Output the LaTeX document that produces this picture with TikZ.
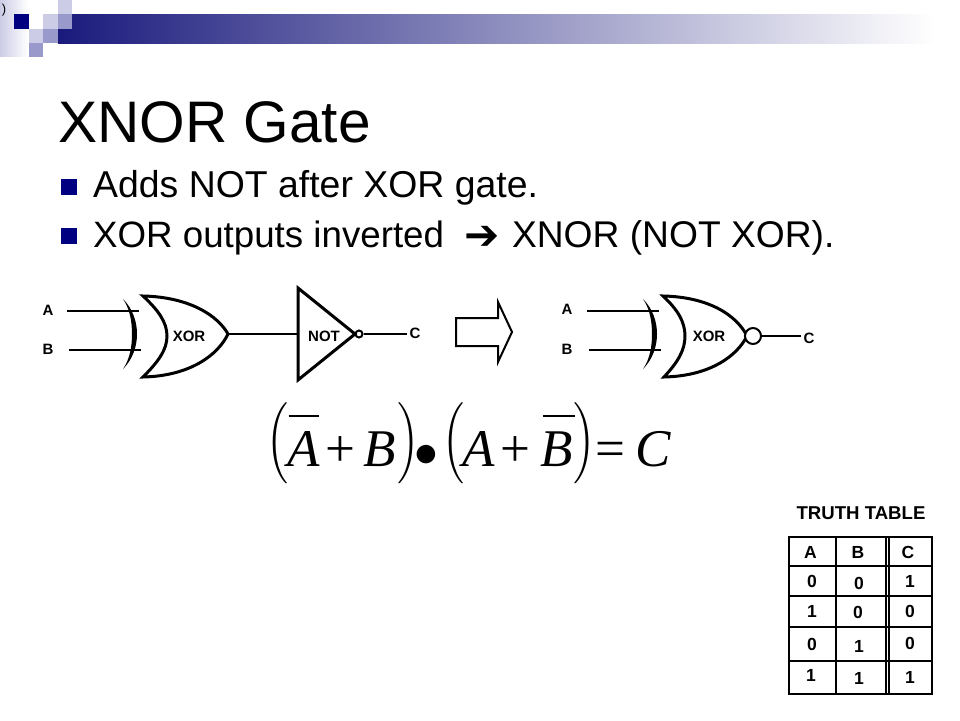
\documentclass[tikz,border=0pt]{standalone}
\usepackage{amsmath}
\usepackage{fontspec}
\setmainfont{Liberation Sans}
\newfontfamily\eqfont{Liberation Serif}
\newfontfamily\arrowfont{DejaVu Sans}
\usepackage{tikz}
\usetikzlibrary{positioning}
\definecolor{navy}{RGB}{0,0,128}
\definecolor{navybar}{RGB}{26,26,125}
\definecolor{midbar}{RGB}{180,180,208}
\definecolor{lightsq}{RGB}{204,204,230}
\definecolor{midsq}{RGB}{153,153,204}
\newcommand{\eqat}[2]{\rlap{\kern#1pt #2}}
\newcommand{\eqvar}[1]{\hbox{\eqfont\itshape #1}}
\newcommand{\eqsym}[1]{\hbox{\eqfont #1}}
\newcommand{\eqparen}[1]{\raisebox{2.1pt}{\scalebox{0.7}[0.85]{$\Big#1$}}}
\newcommand{\eqbar}[1]{\rule[9.2pt]{#1pt}{0.4pt}}
\tikzset{
	title/.style={font=\fontsize{58.6}{60}\selectfont,anchor=base west,inner sep=0pt},
	bodyline/.style={font=\fontsize{37.4}{40}\selectfont,anchor=base west,inner sep=0pt},
	bulletsq/.style={draw=none,fill=navy,minimum size=16pt,inner sep=0pt},
	gatelabel/.style={font=\fontsize{15}{16}\selectfont\bfseries,inner sep=0pt},
	tablabel/.style={font=\fontsize{17.5}{18}\selectfont\bfseries,inner sep=0pt},
	wire/.style={line width=2pt},
	gate/.style={line width=3pt,line join=miter},
}
\begin{document}
\begin{tikzpicture}[x=1pt,y=-1pt]
	\useasboundingbox (0,0) rectangle (960,720);
	% banner
	\shade[left color=lightsq,right color=white] (0,0) rectangle (28,56);
	\shade[left color=navybar,middle color=midbar,right color=white] (58,14) rectangle (935,43);
	\fill[white] (29,0) rectangle (58,14);
	\fill[white] (29,14) rectangle (43,29);
	\fill[navy] (14,14) rectangle (29,29);
	\fill[lightsq] (43,14) rectangle (58,29);
	\fill[lightsq] (58,0) rectangle (72,14);
	\fill[midsq] (58,14) rectangle (72,29);
	\fill[lightsq] (29,29) rectangle (43,43);
	\fill[midsq] (43,29) rectangle (58,43);
	\fill[midsq] (29,43) rectangle (43,57);
	\node[inner sep=0pt,font=\fontsize{13}{13}\selectfont] at (4,10) (corner) {)};
	% text
	\node[title] at (58,142) (head) {XNOR Gate};
	\node[bulletsq] at (68.5,187) (bulA) {};
	\node[bulletsq] at (68.5,236) (bulB) {};
	\node[bodyline] at (93,197) (lineA) {Adds NOT after XOR gate.};
	\node[bodyline] at (93,247) (lineB) {{\fontsize{36.7}{40}\selectfont XOR outputs inverted}\kern20pt\makebox[48pt][l]{\raisebox{-2pt}{\arrowfont\fontsize{42}{40}\selectfont ➔}}{\fontsize{37.2}{40}\selectfont XNOR (NOT XOR).}};
	% left circuit
	\node[gatelabel] at (48,310) (inA) {A};
	\node[gatelabel] at (48,349) (inB) {B};
	\coordinate (endA) at (139,311);
	\coordinate (endB) at (141,350);
	\draw[wire] (67,311) -- (endA);
	\draw[wire] (69,350) -- (endB);
	\fill (123,299) .. controls (130,309) and (132,322) .. (132,334) .. controls (132,346) and (130,359) .. (123,369) .. controls (133,359) and (137,346) .. (137,334) .. controls (137,322) and (133,309) .. (123,299) -- cycle;
	\draw[gate] (143,296) .. controls (190,297) and (218,316) .. (228,334) .. controls (218,355) and (190,376) .. (143,377) .. controls (158,362) and (167,350) .. (167,336) .. controls (167,322) and (158,310) .. (143,296) -- cycle;
	\node[gatelabel] at (189,336) (xorL) {XOR};
	\coordinate (tipL) at (228,334);
	\coordinate (notin) at (298,334);
	\draw[wire] (tipL) -- (notin);
	\draw[gate] (298,288) -- (355,334) -- (298,380) -- cycle;
	\node[gatelabel] at (324,336) (notL) {NOT};
	\node[circle,draw,line width=2pt,inner sep=0pt,minimum size=7pt] at (359,334) (bubL) {};
	\node[gatelabel] at (415,333) (outL) {C};
	\coordinate (endL) at (407,334);
	\draw[wire] (bubL) -- (endL);
	% block arrow
	\draw[line width=2pt] (456,318) -- (498,318) -- (498,302) -- (512,332) -- (498,362) -- (498,346) -- (456,346) -- cycle;
	% right circuit
	\node[gatelabel] at (567,309) (inC) {A};
	\node[gatelabel] at (567,349) (inD) {B};
	\coordinate (endC) at (659,311);
	\coordinate (endD) at (661,350);
	\draw[wire] (587,311) -- (endC);
	\draw[wire] (589,350) -- (endD);
	\fill (643,299) .. controls (650,309) and (652,322) .. (652,334) .. controls (652,346) and (650,359) .. (643,369) .. controls (653,359) and (657,346) .. (657,334) .. controls (657,322) and (653,309) .. (643,299) -- cycle;
	\draw[gate] (663,296) .. controls (710,297) and (737,316) .. (747,336) .. controls (737,356) and (710,376) .. (664,377) .. controls (678,362) and (685,350) .. (685,336) .. controls (685,322) and (678,310) .. (663,296) -- cycle;
	\node[gatelabel] at (709,336) (xorR) {XOR};
	\node[circle,draw,line width=2pt,fill=white,inner sep=0pt,minimum size=16pt] at (753,336) (bubR) {};
	\node[gatelabel] at (809,338) (outR) {C};
	\coordinate (endR) at (801,336);
	\draw[wire] (bubR) -- (endR);
	% equation
	\node[scale=5.3,anchor=base west,inner sep=0pt] at (272,466) (eqn) {\eqat{-1.7}{\eqparen{(}}\eqat{2.45}{\eqbar{5.8}}\eqat{2.2}{\eqvar{A}}\eqat{9.4}{\eqsym{+}}\eqat{16.6}{\eqvar{B}}\eqat{23.0}{\eqparen{)}}\eqat{26.2}{\scalebox{0.9}{$\bullet$}}\eqat{31.5}{\eqparen{(}}\eqat{35.2}{\eqvar{A}}\eqat{42.4}{\eqsym{+}}\eqat{50.4}{\eqbar{6.0}}\eqat{50.0}{\eqvar{B}}\eqat{56.2}{\eqparen{)}}\eqat{60.4}{\eqsym{=}}\eqat{67.8}{\eqvar{C}}};
	% truth table
	\node[tablabel,font=\fontsize{18.6}{18}\selectfont\bfseries] at (861,513) (tabhead) {TRUTH TABLE};
	\draw[wire] (789,537) rectangle (932,694);
	\foreach \ya in {566,596,627,661}
		\draw[wire] (789,\ya) -- (932,\ya);
	\foreach \xa in {836,885.7,888.9}
		\draw[wire] (\xa,537) -- (\xa,694);
	\foreach \xa/\ya/\txt in {810.5/552/A,858/552/B,908/552/C,812/581/0,859/583/0,910/581/1,812/611/1,858/612/0,910/611/0,812/644/0,859/646/1,910/643/0,811/675/1,859/678/1,910/677/1}
		\node[tablabel] at (\xa,\ya) {\txt};
\end{tikzpicture}
\end{document}
